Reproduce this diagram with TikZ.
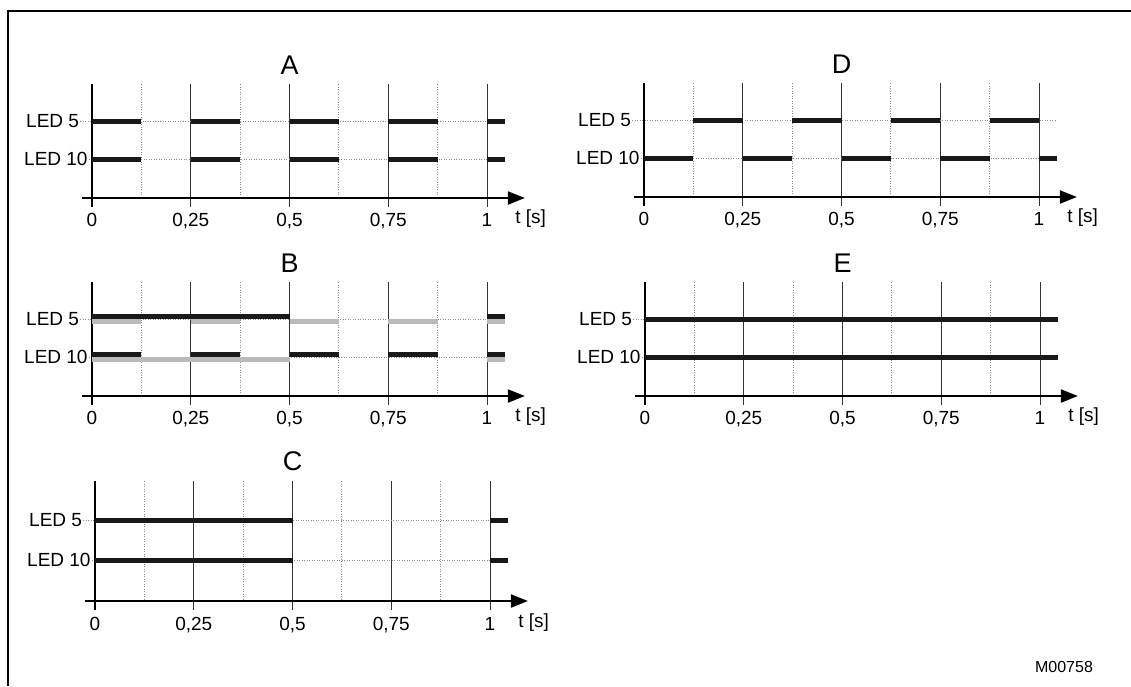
\documentclass[tikz,border=0pt]{standalone}
\usepackage{fontspec}
\setmainfont{Liberation Sans}
\usetikzlibrary{arrows.meta}

\begin{document}
\begin{tikzpicture}[
        x=1pt, y=-1pt,
        small/.style={font=\fontsize{19}{22}\selectfont, inner sep=0pt},
        title/.style={font=\fontsize{27}{30}\selectfont, inner sep=0pt},
        axis/.style={line width=2pt, -{Triangle[length=17pt, width=13pt]}},
        zero/.style={line width=2pt},
        major/.style={line width=1pt, black!80},
        minor/.style={line width=0.9pt, black!45, dash pattern=on 1pt off 1.5pt},
        guide/.style={line width=0.9pt, black!45, dash pattern=on 1pt off 1.5pt},
        bar/.style={line width=5pt, black!90},
        ghost/.style={line width=5pt, black!27}
    ]
        \useasboundingbox (0,0) rectangle (1131,686);
        \draw[line width=2pt] (8,686) -- (8,11) -- (1131,11);

        % common frame of every timing chart
        \foreach \p/\ox/\oy/\sy in {A/92/198/1, B/92/396/1, C/95/601/1.05, D/644/197/1, E/645/396/1} {
            \begin{scope}[shift={(\ox,\oy)}, x=395pt, y=-\sy pt]
                \coordinate (o\p) at (0,0);
                \foreach \t in {0.125,0.375,0.625,0.875}
                    \draw[minor] (\t,-114) -- (\t,0);
                \foreach \t in {0.25,0.5,0.75,1}
                    \draw[major] (\t,-114) -- (\t,9);
                \node[title] (h\p) at (0.5,-133) {\p};
                \node[small, anchor=west] (l5\p) at ([xshift=-66pt]0,-77) {LED 5};
                \node[small, anchor=west] (l10\p) at ([xshift=-68pt]0,-39) {LED 10};
                \draw[guide] ([xshift=1pt]l5\p.east) -- (1.045,-77);
                \draw[guide] ([xshift=1pt]l10\p.east) -- (1.045,-39);
                \draw[axis] (-0.025,0) -- (1.096,0);
                \draw[zero] (0,-114) -- (0,9);
                \foreach \t/\s [count=\i] in {0/0, 0.25/{0,25}, 0.5/{0,5}, 0.75/{0,75}, 1/1}
                    \node[small, anchor=base] (k\p\i) at (\t,28) {\s};
                \node[small, anchor=base west] (u\p) at (1.071,25) {t [s]};
            \end{scope}
        }

        % A
        \begin{scope}[shift={(oA)}, x=395pt]
            \foreach \a in {0,0.25,0.5,0.75} {
                \draw[bar] (\a,-77) -- ++(0.125,0);
                \draw[bar] (\a,-39) -- ++(0.125,0);
            }
            \draw[bar] (1,-77) -- (1.045,-77);
            \draw[bar] (1,-39) -- (1.045,-39);
        \end{scope}

        % B
        \begin{scope}[shift={(oB)}, x=395pt]
            \foreach \a in {0,0.25,0.5,0.75} {
                \draw[ghost] (\a,-74.5) -- ++(0.125,0);
                \draw[bar] (\a,-41.5) -- ++(0.125,0);
            }
            \draw[bar] (0,-79.5) -- (0.5,-79.5);
            \draw[ghost] (0,-36.5) -- (0.5,-36.5);
            \draw[bar] (1,-79.5) -- (1.045,-79.5);
            \draw[ghost] (1,-74.5) -- (1.045,-74.5);
            \draw[bar] (1,-41.5) -- (1.045,-41.5);
            \draw[ghost] (1,-36.5) -- (1.045,-36.5);
        \end{scope}

        % C
        \begin{scope}[shift={(oC)}, x=395pt, y=-1.05pt]
            \draw[bar] (0,-77) -- (0.5,-77);
            \draw[bar] (0,-39) -- (0.5,-39);
            \draw[bar] (1,-77) -- (1.045,-77);
            \draw[bar] (1,-39) -- (1.045,-39);
        \end{scope}

        % D
        \begin{scope}[shift={(oD)}, x=395pt]
            \foreach \a in {0.125,0.375,0.625,0.875}
                \draw[bar] (\a,-77) -- ++(0.125,0);
            \foreach \a in {0,0.25,0.5,0.75}
                \draw[bar] (\a,-39) -- ++(0.125,0);
            \draw[bar] (1,-39) -- (1.045,-39);
        \end{scope}

        % E
        \begin{scope}[shift={(oE)}, x=395pt]
            \draw[bar] (0,-77) -- (1.045,-77);
            \draw[bar] (0,-39) -- (1.045,-39);
        \end{scope}

        \node[font=\fontsize{16}{19}\selectfont, inner sep=0pt] (code) at (1064,667) {M00758};
    \end{tikzpicture}
\end{document}
